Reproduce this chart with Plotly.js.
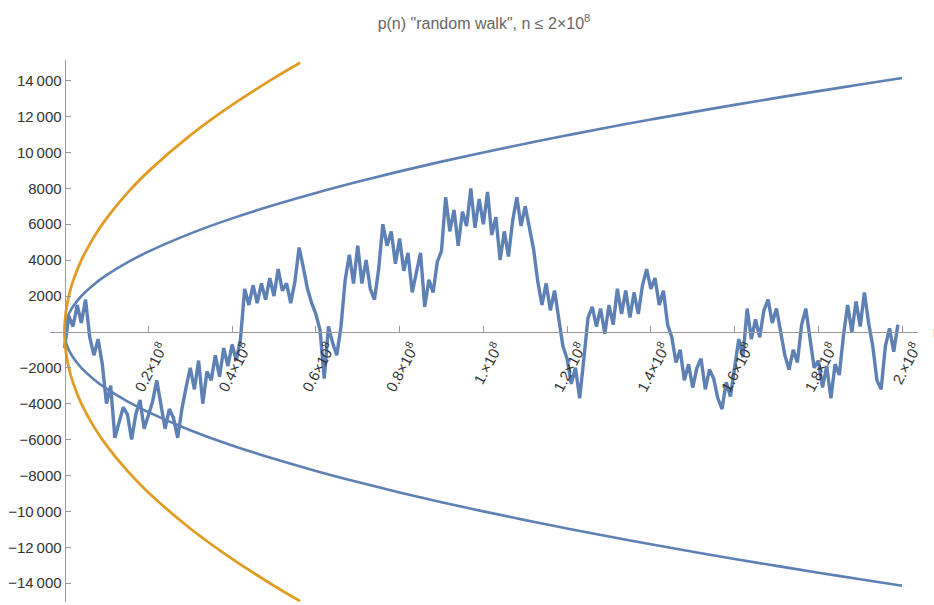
<!DOCTYPE html>
<html>
<head>
<meta charset="utf-8">
<script src="https://cdn.plot.ly/plotly-3.0.1.min.js"></script>
<style>html,body{margin:0;padding:0;background:#fff;overflow:hidden}#chart{width:934px;height:605px}</style>
</head>
<body>
<div id="chart"></div>
<script>
// n in units of 1e8
const boundN = [0, 0.0005, 0.002, 0.005, 0.01, 0.02, 0.04, 0.07, 0.1, 0.15, 0.2, 0.3, 0.4, 0.5, 0.6, 0.7, 0.8, 0.9, 1.0, 1.1, 1.2, 1.3, 1.4, 1.5, 1.6, 1.7, 1.8, 1.9, 2.0];
const boundUpper = [0, 224, 447, 707, 1000, 1414, 2000, 2646, 3162, 3873, 4472, 5477, 6325, 7071, 7746, 8367, 8944, 9487, 10000, 10488, 10954, 11402, 11832, 12247, 12649, 13038, 13416, 13784, 14142];
const boundLower = [0, -224, -447, -707, -1000, -1414, -2000, -2646, -3162, -3873, -4472, -5477, -6325, -7071, -7746, -8367, -8944, -9487, -10000, -10488, -10954, -11402, -11832, -12247, -12649, -13038, -13416, -13784, -14142];

const outerN = [0, 0.0005, 0.002, 0.005, 0.01, 0.02, 0.04, 0.07, 0.1, 0.15, 0.2, 0.3, 0.4, 0.5, 0.5625];
const outerUpper = [0, 447, 894, 1414, 2000, 2828, 4000, 5292, 6325, 7746, 8944, 10954, 12649, 14142, 15000];
const outerLower = [0, -447, -894, -1414, -2000, -2828, -4000, -5292, -6325, -7746, -8944, -10954, -12649, -14142, -15000];

// random walk p(n), sampled every 0.01e8 from n = 0
const WALK_STEP = 0.01;
const walkP = [
  -900, 900, 300, 1500, 500, 1800, -300, -1300, -400, -1800,
  -4000, -3000, -5900, -5000, -4200, -4600, -6000, -4600, -3800, -5400,
  -4700, -3900, -2700, -4200, -5400, -4300, -4800, -5900, -4300, -3100,
  -2000, -3200, -1600, -4000, -2200, -2700, -1300, -2500, -900, -1900,
  -700, -1600, -400, 2400, 1500, 2600, 1600, 2700, 1800, 3000,
  2000, 3500, 2300, 2700, 1600, 2800, 4700, 3600, 2400, 1600,
  1000, 100, -2600, 300, -600, -1300, 300, 2900, 4300, 2700,
  4800, 2700, 4000, 2400, 1800, 3500, 6000, 4800, 5600, 3800,
  5200, 3400, 4400, 2200, 3200, 4400, 1400, 2900, 2200, 3900,
  4500, 7500, 5600, 6800, 4800, 6700, 5900, 8000, 5800, 7400,
  6000, 7800, 5400, 6400, 4000, 5600, 4200, 6200, 7500, 5900,
  7000, 5700, 4600, 2800, 1500, 2700, 1200, 2300, 800, -800,
  -1500, -2900, -2000, -3700, -1500, 800, 1400, 300, 1300, -100,
  1500, 400, 2400, 1000, 2300, 800, 2200, 1000, 2600, 3500,
  2400, 3000, 1500, 2300, 400, -300, -1700, -1000, -2700, -1800,
  -3100, -2000, -1500, -3200, -2100, -2600, -3700, -4300, -2800, -3600,
  -2000, -400, -1400, 1300, -400, 700, -300, 1200, 1800, 500,
  1300, -100, -1300, -2100, -1000, -1700, 400, 1300, -500, -2000,
  -1600, -3100, -1900, -3700, -1800, -2400, -200, 1500, 0, 1700,
  300, 2200, 500, -800, -2700, -3200, -800, 200, -1100, 400
];
const walkN = walkP.map((_, i) => i * WALK_STEP);

const xTickVals = [0.2, 0.4, 0.6, 0.8, 1.0, 1.2, 1.4, 1.6, 1.8, 2.0];
const xTickText = ['0.2×10<sup>8</sup>', '0.4×10<sup>8</sup>', '0.6×10<sup>8</sup>', '0.8×10<sup>8</sup>', '1.×10<sup>8</sup>', '1.2×10<sup>8</sup>', '1.4×10<sup>8</sup>', '1.6×10<sup>8</sup>', '1.8×10<sup>8</sup>', '2.×10<sup>8</sup>'];
const yTickVals = [-14000, -12000, -10000, -8000, -6000, -4000, -2000, 2000, 4000, 6000, 8000, 10000, 12000, 14000];
const yTickText = ['−14\u2009000', '−12\u2009000', '−10\u2009000', '−8000', '−6000', '−4000', '−2000', '2000', '4000', '6000', '8000', '10\u2009000', '12\u2009000', '14\u2009000'];

const BLUE = 'rgb(94,129,181)';
const ORANGE = 'rgb(225,156,36)';

const traces = [
  {x: walkN, y: walkP, mode: 'lines', line: {color: BLUE, width: 3.4}},
  {x: boundN, y: boundUpper, mode: 'lines', line: {color: BLUE, width: 2.6, shape: 'spline'}},
  {x: boundN, y: boundLower, mode: 'lines', line: {color: BLUE, width: 2.6, shape: 'spline'}},
  {x: outerN, y: outerUpper, mode: 'lines', line: {color: ORANGE, width: 2.8, shape: 'spline'}},
  {x: outerN, y: outerLower, mode: 'lines', line: {color: ORANGE, width: 2.8, shape: 'spline'}}
];

const L = 50, R = 16, T = 60, B = 3;
const xRange = [-0.0349, 2.038];
const yRange = [-15050, 15150];
const H = 605 - T - B, W = 934 - L - R;

const layout = {
  width: 934, height: 605,
  margin: {l: L, r: R, t: T, b: B},
  showlegend: false,
  paper_bgcolor: '#fff', plot_bgcolor: '#fff',
  font: {family: 'Liberation Sans, Arial, sans-serif', size: 15, color: '#333'},
  title: {text: 'p(n) "random walk", n ≤ 2×10<sup>8</sup>', x: 0.5, xref: 'paper', y: 0.962, yanchor: 'middle',
          font: {family: 'Liberation Sans, Arial, sans-serif', size: 16, color: '#666'}},
  xaxis: {
    range: xRange, anchor: 'free', position: (0 - yRange[0]) / (yRange[1] - yRange[0]),
    showgrid: false, zeroline: false, showline: true, linecolor: '#999', linewidth: 1,
    ticks: 'inside', ticklen: 6, tickcolor: '#999', tickwidth: 1,
    tickvals: xTickVals, ticktext: xTickText, tickangle: -62, ticklabelshift: 13,
    tickfont: {size: 15, color: '#333'}
  },
  yaxis: {
    range: yRange, anchor: 'free', position: (0 - xRange[0]) / (xRange[1] - xRange[0]),
    showgrid: false, zeroline: false, showline: true, linecolor: '#999', linewidth: 1,
    ticks: 'inside', ticklen: 5, tickcolor: '#999', tickwidth: 1,
    tickvals: yTickVals, ticktext: yTickText,
    tickfont: {size: 15, color: '#333'}
  },
  annotations: [
    {text: 'n', xref: 'paper', x: (931 - L) / W, xanchor: 'left', yref: 'y', y: 0, yanchor: 'middle',
     showarrow: false, font: {size: 14, color: '#444'}}
  ]
};

Plotly.newPlot('chart', traces, layout, {staticPlot: true, displayModeBar: false});
</script>
</body>
</html>
